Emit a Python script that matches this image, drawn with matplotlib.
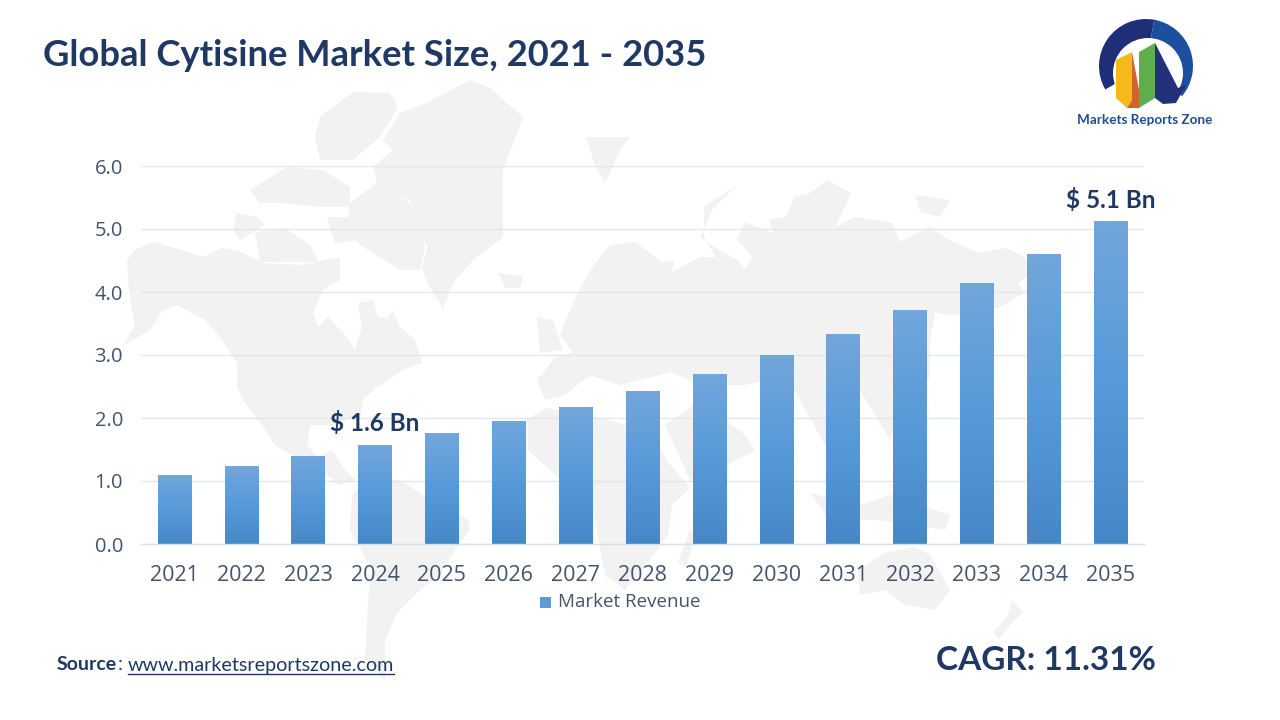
import numpy as np
import matplotlib
matplotlib.use("Agg")
import matplotlib.pyplot as plt
from matplotlib.patches import Polygon, Wedge, Rectangle, Circle
from matplotlib.colors import LinearSegmentedColormap

years = ["2021","2022","2023","2024","2025","2026","2027","2028","2029","2030","2031","2032","2033","2034","2035"]
revenue = [1.09,1.23,1.39,1.57,1.75,1.95,2.17,2.42,2.69,3.00,3.33,3.71,4.14,4.60,5.12]
y_ticks = [0,1,2,3,4,5,6]
title = "Global Cytisine Market Size, 2021 - 2035"
NAVY = "#1F3864"
W, H = 1280, 720

# decorative world map silhouettes, in picture pixels
land = [
 # North and Central America
 [(127,260),(135,250),(153,242),(175,248),(203,257),(222,248),(237,250),(263,263),(303,265),(340,257),(340,280),(323,290),(313,313),(318,327),(328,317),(347,337),(355,350),(362,327),(358,303),(373,300),(378,317),(387,318),(393,310),(400,327),(415,340),(422,363),(403,370),(377,387),(363,400),(360,417),(345,420),(335,425),(310,425),(307,445),(318,458),(332,450),(345,470),(356,480),(340,485),(320,470),(300,460),(275,445),(262,425),(243,400),(237,387),(237,363),(220,337),(205,320),(177,305),(163,310),(150,330),(122,347),(135,325),(130,300),(128,280)],
 # Greenland
 [(470,80),(490,88),(523,117),(503,170),(503,237),(473,260),(453,283),(443,308),(427,283),(422,267),(428,247),(418,230),(410,200),(387,193),(377,183),(373,167),(393,150),(383,140),(400,113),(427,103)],
 # Arctic islands
 [(320,117),(353,92),(390,93),(398,107),(380,137),(353,160),(320,160),(315,137)],
 [(250,190),(287,167),(323,170),(350,187),(350,207),(320,207),(280,203),(260,203)],
 [(350,203),(377,183),(410,203),(418,227),(425,247),(420,270),(400,270),(380,257),(360,245),(347,227)],
 [(237,213),(257,217),(265,225),(240,240),(233,230)],
 [(255,232),(285,228),(310,245),(318,262),(260,262)],
 [(327,217),(353,217),(360,240),(335,243)],
 [(498,273),(523,276),(520,288),(505,288)],
 [(537,317),(553,320),(563,350),(540,353)],
 [(586,137),(630,137),(620,150),(605,183),(595,165)],
 [(916,195),(950,200),(940,217),(920,212)],
 # South America
 [(352,495),(370,478),(400,480),(430,500),(468,520),(470,530),(455,550),(440,575),(420,590),(397,613),(385,640),(385,680),(365,660),(368,600),(372,570),(350,530)],
 # Eurasia
 [(573,303),(590,270),(600,257),(610,245),(635,242),(663,263),(675,260),(671,273),(700,257),(716,257),(704,237),(704,207),(737,185),(712,210),(700,237),(716,248),(737,260),(745,270),(753,257),(737,240),(745,222),(773,233),(769,220),(786,217),(794,197),(810,193),(827,180),(851,193),(835,227),(855,217),(892,223),(900,242),(929,227),(949,240),(978,253),(1006,248),(1026,258),(1030,275),(1018,283),(1024,293),(1000,307),(975,312),(950,315),(935,312),(930,340),(930,377),(905,395),(890,440),(875,415),(860,390),(840,400),(825,445),(800,400),(785,375),(745,385),(700,385),(672,372),(620,385),(590,375),(565,395),(545,400),(537,380),(555,358),(573,352),(560,335)],
 # Africa
 [(527,420),(545,408),(590,415),(625,425),(650,430),(668,462),(690,488),(672,505),(668,535),(650,560),(625,590),(605,575),(597,530),(590,490),(555,475),(528,450)],
 # Arabia
 [(665,425),(700,400),(745,435),(755,450),(710,475),(690,480)],
 # Madagascar
 [(690,530),(696,535),(686,567),(678,562)],
 # Indonesia
 [(810,493),(860,505),(890,495),(950,515),(945,530),(880,520),(830,520)],
 # Australia
 [(858,570),(885,553),(915,547),(930,555),(950,590),(935,610),(905,605),(885,590),(860,595)],
 # New Zealand
 [(1012,600),(1023,612),(1010,625),(998,640),(994,632),(1008,615)],
]

fig = plt.figure(figsize=(W/100, H/100), dpi=100, facecolor="white")
bg = fig.add_axes([0,0,1,1], zorder=0)
bg.set_xlim(0,W); bg.set_ylim(H,0); bg.axis("off")
for pts in land:
    bg.add_patch(Polygon(pts, closed=True, fc="#F2F2F2", ec="none"))

ax = fig.add_axes([141/W, 1-544/H, (1144-141)/W, (544-166)/H], zorder=1)
ax.patch.set_alpha(0)
x = np.arange(len(years))
bars = ax.bar(x, revenue, width=0.5, color="#5B9BD5", label="Market Revenue", zorder=2)
cmap = LinearSegmentedColormap.from_list("g", ["#4688C7","#569AD9","#72A6DC"])
grad = np.linspace(0,1,256).reshape(-1,1)
for b in bars:
    h = b.get_height(); xx = b.get_x(); w = b.get_width()
    b.set_visible(False)
    ax.imshow(grad, extent=(xx,xx+w,0,h), origin="lower", aspect="auto", cmap=cmap, zorder=2)
ax.set_xlim(-0.5, 14.5); ax.set_ylim(0,6)

ax.set_yticks(y_ticks)
ax.set_yticklabels([f"{v:.1f}" for v in y_ticks], fontfamily="Open Sans", fontsize=14.5, color="#44546A")
ax.set_xticks(x)
ax.set_xticklabels(years, fontfamily="Open Sans", fontsize=15.5, color="#44546A")
ax.tick_params(axis="both", length=0)
ax.tick_params(axis="x", pad=15)
ax.tick_params(axis="y", pad=13)
ax.grid(axis="y", color="#E3E7EC", lw=1, zorder=0)
ax.set_axisbelow(True)
for s in ["top","left","right"]:
    ax.spines[s].set_visible(False)
ax.spines["bottom"].set_color("#D9DFE8"); ax.spines["bottom"].set_linewidth(1)

ax.annotate("$ 1.6 Bn", (x[3], revenue[3]), xytext=(0,7), textcoords="offset points", ha="center", va="bottom",
            fontfamily="Lato", fontweight="bold", fontsize=17.5, color=NAVY)
ax.annotate("$ 5.1 Bn", (x[14], revenue[14]), xytext=(0,7), textcoords="offset points", ha="center", va="bottom",
            fontfamily="Lato", fontweight="bold", fontsize=17.5, color=NAVY)

# legend
bg.add_patch(Rectangle((540,597),11,11,fc="#5B9BD5",ec="none"))
bg.text(558,602,"Market Revenue",fontfamily="Open Sans",fontsize=13.5,color="#44546A",va="center",ha="left")

# title, source, CAGR
bg.text(43,56,title,fontfamily="Lato",fontweight="bold",fontsize=26.2,color=NAVY,va="center",ha="left")
bg.text(57,665,"Source",fontfamily="Lato",fontweight="bold",fontsize=14,color=NAVY,va="center")
bg.text(118,665,": ",fontfamily="Lato",fontsize=14,color=NAVY,va="center")
bg.text(128,665,"www.marketsreportszone.com",fontfamily="Lato",fontsize=14.2,color=NAVY,va="center")
bg.plot([128,394],[674,674],color=NAVY,lw=1)
bg.text(1156,660,"CAGR: 11.31%",fontfamily="Lato",fontweight="bold",fontsize=24,color=NAVY,va="center",ha="right")

# logo
bg.add_patch(Wedge((1146,66),47,150,280,fc="#1E2F78",ec="none"))
bg.add_patch(Wedge((1146,66),47,280,400,fc="#1C4FA0",ec="none"))
bg.add_patch(Circle((1148,73),35,fc="white",ec="none"))
bg.add_patch(Polygon([(1116,60),(1132,52),(1132,100),(1127,108),(1116,98)],fc="#F6B91C",ec="none"))
bg.add_patch(Polygon([(1132,52),(1139,90),(1139,108),(1127,108),(1132,100)],fc="#D2642A",ec="none"))
bg.add_patch(Polygon([(1139,52),(1155,43),(1155,98),(1139,108)],fc="#5FAE4C",ec="none"))
bg.add_patch(Polygon([(1155,43),(1178,88),(1186,85),(1176,103),(1163,104),(1155,98)],fc="#23307A",ec="none"))
bg.text(1145,120,"Markets Reports Zone",fontfamily="Lato",fontweight="bold",fontsize=9.7,color="#1F4E8C",ha="center",va="center")

fig.savefig("out.png", dpi=100)
